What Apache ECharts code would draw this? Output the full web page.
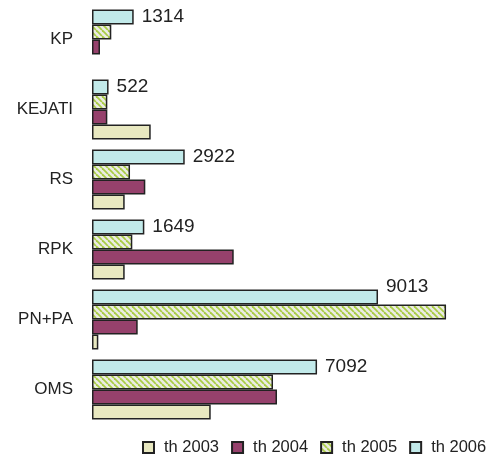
<!DOCTYPE html>
<html>
<head>
<meta charset="utf-8">
<script src="https://cdn.jsdelivr.net/npm/echarts@6/dist/echarts.min.js"></script>
<style>html,body{margin:0;padding:0;background:#fff}#c{width:487px;height:458px}</style>
</head>
<body>
<div id="c"></div>
<script>
var categories = ['KP', 'KEJATI', 'RS', 'RPK', 'PN+PA', 'OMS'];
var th2003 = [null, 1850, 1030, 1030, 199, 3741];
var th2004 = [252, 483, 1680, 4466, 1440, 5830];
var th2005 = [608, 483, 1198, 1270, 11157, 5704];
var th2006 = [1314, 522, 2922, 1649, 9013, 7092];
var seriesNames = ['th 2003', 'th 2004', 'th 2005', 'th 2006'];

var FONT = '"Liberation Sans", Arial, sans-serif';

function makeHatch() {
  var c = document.createElement('canvas');
  c.width = 6; c.height = 6;
  var g = c.getContext('2d');
  g.fillStyle = '#ececE4';
  g.fillRect(0, 0, 6, 6);
  g.strokeStyle = '#a9cc45';
  g.lineWidth = 1.8;
  for (var k = -6; k <= 6; k += 6) {
    g.beginPath();
    g.moveTo(k, 0);
    g.lineTo(k + 6, 6);
    g.stroke();
  }
  return c;
}
var hatch = { image: makeHatch(), repeat: 'repeat' };

var border = { borderColor: '#222', borderWidth: 1.5 };
function bar(name, data, color, withLabel) {
  var s = {
    name: name,
    type: 'bar',
    data: data.map(function (v) { return v; }),
    barWidth: 15,
    barGap: '0%',
    itemStyle: Object.assign({ color: color }, border),
    label: { show: false }
  };
  if (withLabel) {
    s.label = {
      show: true, position: 'right', distance: 8,
      fontFamily: FONT, fontSize: 19, color: '#222'
    };
  }
  return s;
}

var s2006 = bar('th 2006', th2006, '#c2eaea', true);
// the 9013 label sits a little higher than its bar in the original
s2006.data = th2006.map(function (v, i) {
  return categories[i] === 'PN+PA' ? { value: v, label: { offset: [0, -10] } } : v;
});

var option = {
  animation: false,
  grid: { left: 92, top: 4.5, height: 420, right: 14.2 },
  xAxis: {
    type: 'value', min: 0, max: 12000, show: false,
    splitLine: { show: false }
  },
  yAxis: {
    type: 'category', data: categories, inverse: true,
    axisLine: { show: false }, axisTick: { show: false },
    axisLabel: { fontFamily: FONT, fontSize: 17, color: '#222', margin: 19 }
  },
  legend: {
    data: seriesNames,
    left: 142, top: 439, width: 420, padding: 0,
    itemWidth: 11, itemHeight: 11, itemGap: 12,
    icon: 'rect',
    textStyle: { fontFamily: FONT, fontSize: 16.5, color: '#222', padding: [0, 0, 0, 5] }
  },
  series: [
    s2006,
    bar('th 2005', th2005, hatch, false),
    bar('th 2004', th2004, '#96416c', false),
    bar('th 2003', th2003, '#e8e8c0', false)
  ]
};
echarts.init(document.getElementById('c')).setOption(option);
</script>
</body>
</html>
